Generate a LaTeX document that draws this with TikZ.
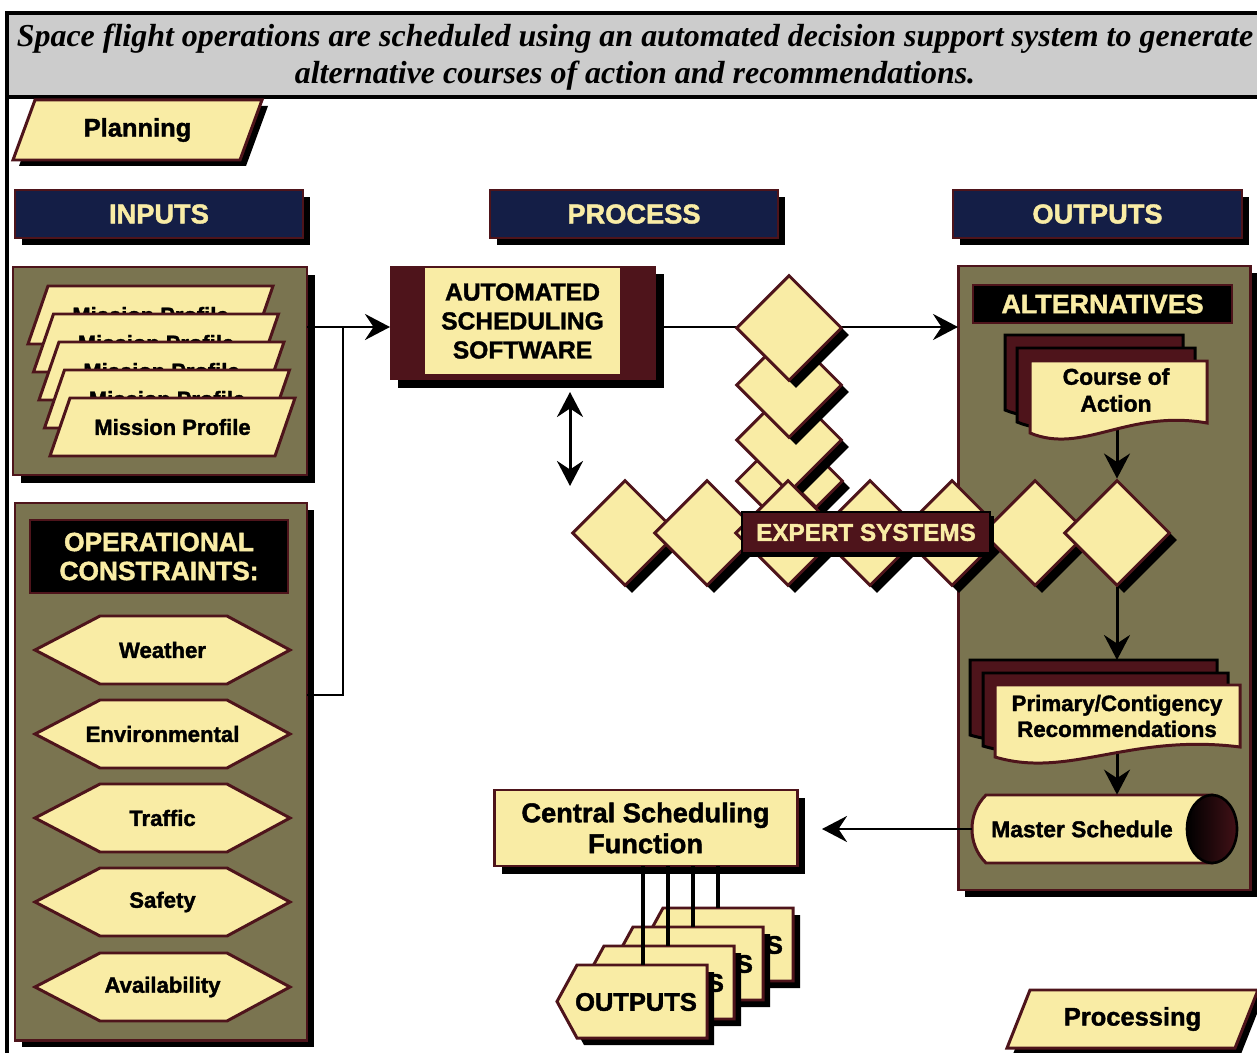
\documentclass[tikz,border=0pt]{standalone}
\usepackage{fontspec}
\setmainfont{Liberation Sans}[BoldFeatures={FakeBold=1.6}]
\newfontfamily\titlefont{Liberation Serif}
\usetikzlibrary{arrows.meta,shapes.geometric}
\definecolor{pale}{HTML}{F9ECA5}
\definecolor{maroonc}{HTML}{4E141B}
\definecolor{olivec}{HTML}{7A7450}
\definecolor{navyc}{HTML}{141E46}
\definecolor{titlegray}{HTML}{CCCCCC}
\tikzset{
  ol/.style={draw=maroonc, line width=1.7pt},
  arr/.style={line width=1.7pt, -{Stealth[length=0.5cm, width=0.52cm, inset=0.17cm]}},
  darr/.style={line width=1.7pt, {Stealth[length=0.5cm, width=0.52cm, inset=0.17cm]}-{Stealth[length=0.5cm, width=0.52cm, inset=0.17cm]}},
  bartext/.style={fill=navyc, draw=maroonc, line width=1.2pt, text=pale, font=\bfseries\fontsize{15.5}{15.5}\selectfont},
}
% parallelogram: name, x bottom-left, y top, width, height, skew, shadow, font size, text
\newcommand\PGram[9]{%
  \fill[black] ({#2+#6+#7},{#3+#7}) -- ({#2+#6+#4+#7},{#3+#7}) -- ({#2+#4+#7},{#3+#5+#7}) -- ({#2+#7},{#3+#5+#7}) -- cycle;
  \filldraw[fill=pale, ol] ({#2+#6},{#3}) -- ({#2+#6+#4},{#3}) -- ({#2+#4},{#3+#5}) -- ({#2},{#3+#5}) -- cycle;
  \node[font=\bfseries\fontsize{#8}{#8}\selectfont, inner sep=0] (#1) at ({#2+(#4+#6)/2},{#3+#5/2}) {#9};}
% box: name, x1, y1, x2, y2, shadow, style, text
\newcommand\SBox[8]{%
  \fill[black] ({#2+#6},{#3+#6}) rectangle ({#4+#6},{#5+#6});
  \node[#7, inner sep=0, outer sep=0, minimum width={(#4-#2)*0.02cm}, minimum height={(#5-#3)*0.02cm}] (#1) at ({(#2+#4)/2},{(#3+#5)/2}) {#8};}
% diamond: name, cx, cy, half size
\newcommand\Dia[4]{%
  \node[diamond, fill=black, inner sep=0, minimum width={#4*0.04cm}, minimum height={#4*0.04cm}] at ({#2+7},{#3+7}) {};
  \node[diamond, fill=pale, ol, inner sep=0, minimum width={#4*0.04cm}, minimum height={#4*0.04cm}] (#1) at (#2,#3) {};}
% hexagon: name, cy, text
\newcommand\Hexa[3]{%
  \filldraw[fill=pale, ol] (35,#2) -- (100,{#2-34}) -- (227,{#2-34}) -- (290,#2) -- (227,{#2+34}) -- (100,{#2+34}) -- cycle;
  \node[font=\bfseries\fontsize{12.6}{12.6}\selectfont, inner sep=0] (#1) at (162.5,#2) {#3};}
% document: x1, y1, x2, ybottom, style
\newcommand\Doc[5]{%
  \path[#5] (#1,#2) -- (#3,#2) -- (#3,{#4-10}) .. controls ({#1+0.55*(#3-#1)},{#4-24}) and ({#1+0.3*(#3-#1)},{#4+22}) .. (#1,#4) -- cycle;}
% output pentagon: name, xshift, yshift
\newcommand\OutS[3]{%
  \begin{scope}[shift={(#2,#3)}]
  \fill[black] (584,972) -- (714,972) -- (714,1045) -- (584,1045) -- (564,1009) -- cycle;
  \filldraw[fill=pale, ol] (577,965) -- (707,965) -- (707,1038) -- (577,1038) -- (557,1001.5) -- cycle;
  \node[font=\bfseries\fontsize{14.5}{14.5}\selectfont, inner sep=0] (#1) at (636,1002) {OUTPUTS};
  \end{scope}}

\begin{document}
\begin{tikzpicture}[x=0.02cm, y=-0.02cm]
\useasboundingbox (0,0) rectangle (1257,1053);
\fill[white] (0,0) rectangle (1257,1053);

% frame and title
\fill[titlegray] (7,13) rectangle (1275,97);
\draw[line width=1.8pt] (7,1070) -- (7,13) -- (1275,13);
\draw[line width=1.8pt] (7,97) -- (1275,97);
\node[font=\titlefont\bfseries\itshape\fontsize{18.2}{21}\selectfont, align=center, inner sep=0] (title) at (635,57)
  {Space flight operations are scheduled using an automated decision support system to generate\\alternative courses of action and recommendations.};

% planning
\PGram{planning}{13}{100}{227}{60}{22}{6}{14.5}{Planning}

% headers
\SBox{inputs}{15}{190}{303}{238}{7}{bartext}{INPUTS}
\SBox{process}{490}{190}{778}{238}{7}{bartext}{PROCESS}
\SBox{outputs}{953}{190}{1242}{238}{7}{bartext}{OUTPUTS}

% mission profiles
\SBox{mpbox}{13}{267}{307}{475}{8}{fill=olivec, ol}{}
\PGram{mp1}{28}{286}{225}{58}{20}{0}{12.5}{Mission Profile}
\PGram{mp2}{33.5}{314}{225}{58}{20}{0}{12.5}{Mission Profile}
\PGram{mp3}{39}{342}{225}{58}{20}{0}{12.5}{Mission Profile}
\PGram{mp4}{44.5}{370}{225}{58}{20}{0}{12.5}{Mission Profile}
\PGram{mp5}{50}{398}{225}{58}{20}{0}{12.5}{Mission Profile}

% operational constraints
\SBox{ocbox}{15}{503}{307}{1040}{7}{fill=olivec, ol}{}
\SBox{oclabel}{30}{520}{288}{593}{0}{fill=black, draw=maroonc, line width=1.5pt, text=pale, align=center, font=\bfseries\fontsize{15}{16.5}\selectfont}{OPERATIONAL\\CONSTRAINTS:}
\Hexa{weather}{650}{Weather}
\Hexa{environmental}{734}{Environmental}
\Hexa{traffic}{818}{Traffic}
\Hexa{safety}{902}{Safety}
\Hexa{availability}{987}{Availability}

% left connectors
\coordinate (jtop) at (343,327);
\coordinate (jbot) at (343,695);
\draw[line width=1.7pt] (ocbox.east |- jbot) -- (jbot) -- (jtop);

% automated scheduling software
\SBox{auto}{390}{266}{656}{380}{8}{fill=maroonc}{}
\node[fill=pale, inner sep=0, minimum width=195*0.02cm, minimum height=106*0.02cm, align=center, font=\bfseries\fontsize{14}{16.5}\selectfont] (autotext) at (522.5,321) {AUTOMATED\\SCHEDULING\\SOFTWARE};
\draw[arr] (mpbox.east |- jtop) -- (auto.west |- jtop);
\coordinate (dA) at (570,392);
\coordinate (dB) at (570,486);
\draw[darr] (dA) -- (dB);

% alternatives box
\SBox{altbox}{958}{266}{1250}{890}{7}{fill=olivec, ol}{}
\SBox{altlabel}{973}{285}{1232}{323}{0}{fill=black, draw=maroonc, line width=1.5pt, text=pale, font=\bfseries\fontsize{15.3}{15.3}\selectfont}{ALTERNATIVES}
\draw[arr] (auto.east |- jtop) -- (altbox.west |- jtop);

% diamonds: vertical stack
\Dia{ds1}{763}{481}{27}
\Dia{ds2}{816}{481}{27}
\Dia{dv3}{789}{440}{53}
\Dia{dv2}{789}{385}{53}
\Dia{dv1}{789}{328}{53}
% diamonds: row
\Dia{dr1}{625}{533}{53}
\Dia{dr2}{707}{533}{53}
\Dia{dr3}{788}{533}{53}
\Dia{dr4}{870}{533}{53}
\Dia{dr5}{952}{533}{53}
\Dia{dr6}{1035}{533}{53}
\Dia{dq}{1117}{533}{53}
\SBox{expert}{742}{512}{990}{553}{4}{fill=maroonc, draw=black, line width=0.8pt, text=pale, font=\bfseries\fontsize{13.8}{13.8}\selectfont}{EXPERT SYSTEMS}

% master schedule
\filldraw[fill=pale, ol] (986,795) -- (1212,795) -- (1212,863) -- (986,863) .. controls (976,853) and (972,841) .. (972,829) .. controls (972,817) and (976,805) .. (986,795) -- cycle;
\shade[left color=black, right color=maroonc!85!black] (1212,829) ellipse [x radius=25, y radius=34];
\draw[black, line width=1.5pt] (1212,829) ellipse [x radius=25, y radius=34];
\node[inner sep=0, minimum width=240*0.02cm, minimum height=68*0.02cm] (ms) at (1092,829) {};
\node[font=\bfseries\fontsize{13}{13}\selectfont, inner sep=0] (mstext) at (1082,829) {Master Schedule};

% arrows inside alternatives
\coordinate (coab) at (1117,424);
\coordinate (primt) at (1117,660);
\coordinate (primb) at (1117,745);
\draw[arr] (coab) -- (dq.north);
\draw[arr] (dq.south) -- (primt);
\draw[arr] (primb) -- (primb |- ms.north);

% course of action documents
\Doc{1005}{335}{1183}{410}{fill=maroonc, draw=black, line width=1.7pt}
\Doc{1017}{348}{1195}{422}{fill=maroonc, draw=black, line width=1.7pt}
\Doc{1030}{361}{1207}{433}{fill=pale, ol}
\node[align=center, font=\bfseries\fontsize{13}{15.3}\selectfont, inner sep=0] (coa) at (1116,390) {Course of\\Action};

% primary/contingency documents
\Doc{970}{660}{1217}{735}{fill=maroonc, draw=black, line width=1.7pt}
\Doc{983}{673}{1228}{746}{fill=maroonc, draw=black, line width=1.7pt}
\Doc{995}{685}{1240}{757}{fill=pale, ol}
\node[align=center, font=\bfseries\fontsize{12.7}{14.7}\selectfont, inner sep=0] (prim) at (1117,716) {Primary/Contigency\\Recommendations};

% central scheduling function
\SBox{central}{494}{790}{797}{866}{8}{fill=pale, ol, align=center, font=\bfseries\fontsize{15.5}{17.6}\selectfont}{Central Scheduling\\Function}
\draw[arr, shorten >=0.5cm] (ms.west) -- (central.east |- ms.west);

% output stack
\OutS{out4}{86}{-57}
\OutS{out3}{56}{-38}
\OutS{out2}{27}{-19}
\OutS{out1}{0}{0}
\coordinate (o1t) at (643,965);
\coordinate (o2t) at (668,946);
\coordinate (o3t) at (693,927);
\coordinate (o4t) at (718,908);
\draw[line width=2pt] (o1t |- central.south) -- (o1t);
\draw[line width=2pt] (o2t |- central.south) -- (o2t);
\draw[line width=2pt] (o3t |- central.south) -- (o3t);
\draw[line width=2pt] (o4t |- central.south) -- (o4t);

% processing
\PGram{processing}{1007}{990}{228}{58}{23}{6}{14.5}{Processing}
\end{tikzpicture}
\end{document}
